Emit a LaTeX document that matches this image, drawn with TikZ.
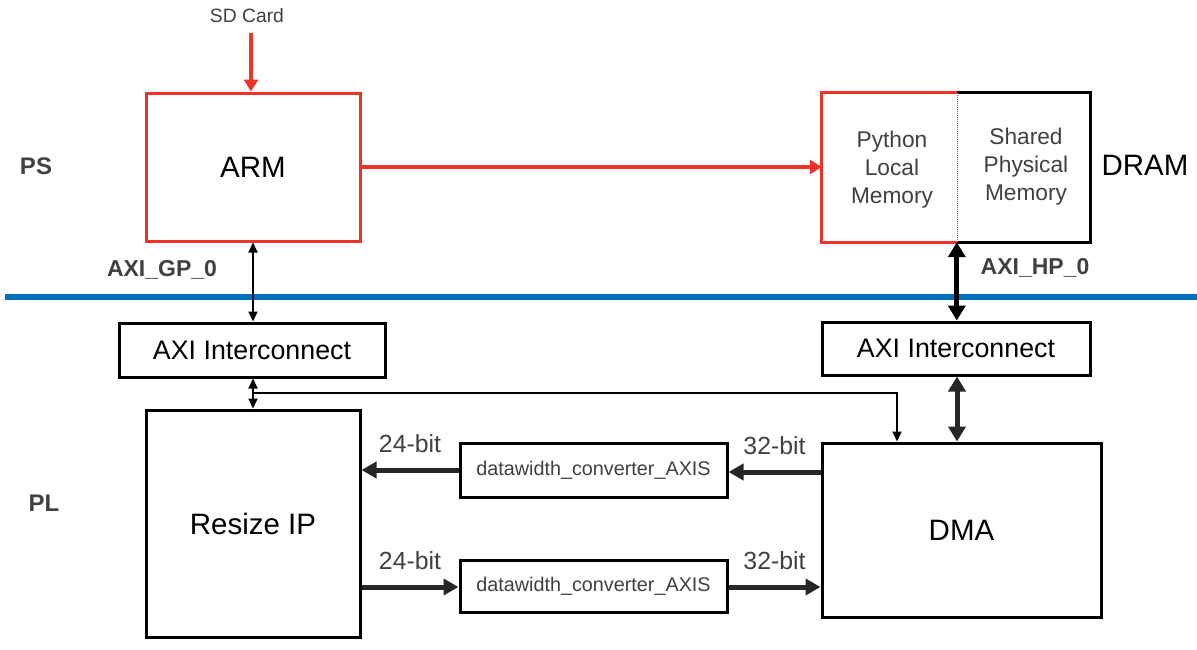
\documentclass[tikz,border=0pt]{standalone}
\usepackage{fontspec}
\setmainfont{Liberation Sans}
\usetikzlibrary{arrows.meta}
\definecolor{psred}{RGB}{238,52,40}
\definecolor{linkblue}{RGB}{0,112,192}
\definecolor{txtgray}{RGB}{64,64,64}
\definecolor{busgray}{RGB}{38,38,38}

\begin{document}
\begin{tikzpicture}[x=1pt,y=-1pt,
  blk/.style={draw=black,line width=3pt,rectangle,inner sep=0pt,font=\fontsize{29.5}{34}\selectfont},
  redblk/.style={blk,draw=psred},
  ifc/.style={blk,font=\fontsize{26.8}{30}\selectfont},
  conv/.style={blk,font=\fontsize{19.8}{23}\selectfont,text=txtgray},
  memtxt/.style={align=center,inner sep=0pt,text=txtgray,font=\fontsize{22.7}{28}\selectfont},
  side/.style={text=txtgray,font=\bfseries\fontsize{24}{28}\selectfont},
  port/.style={text=txtgray,font=\bfseries\fontsize{23}{27}\selectfont},
  bits/.style={text=txtgray,font=\fontsize{24.8}{28}\selectfont,inner sep=2pt},
  redarrow/.style={draw=psred,line width=4pt,-{Triangle[width=14pt,length=12pt]}},
  thinbus/.style={draw=black,line width=2pt,{Triangle[width=9pt,length=10pt]}-{Triangle[width=9pt,length=10pt]}},
  hpbus/.style={draw=black,line width=5pt,{Triangle[width=17pt,length=15pt]}-{Triangle[width=17pt,length=15pt]}},
  dmabus/.style={draw=busgray,line width=5pt,{Triangle[width=17pt,length=15pt]}-{Triangle[width=17pt,length=15pt]}},
  stream/.style={draw=busgray,line width=5pt,-{Triangle[width=16pt,length=15pt]}}]
\useasboundingbox (0,0) rectangle (1197,649);

% PS side
\node[text=txtgray,font=\fontsize{19.3}{22}\selectfont] (sd) at (247,16) {SD Card};
\node[redblk,minimum width=214pt,minimum height=148pt] (arm) at (253,167) {ARM};
\node[rectangle,inner sep=0pt,minimum width=135pt,minimum height=149pt] (plm) at (889.5,167.5) {};
\node[rectangle,inner sep=0pt,minimum width=133pt,minimum height=149pt] (spm) at (1023.5,167.5) {};
\draw[black,line width=3pt] (spm.north west) -- (spm.north east) -- (spm.south east) -- (spm.south west);
\draw[psred,line width=3pt] (plm.north east) -- (plm.north west) -- (plm.south west) -- (plm.south east);
\draw[psred,line width=1pt,densely dotted] (plm.north east) -- (plm.south east);
\node[memtxt] (plmtxt) at (892,170) {Python\\Local\\Memory};
\node[memtxt] (spmtxt) at (1026,167) {Shared\\Physical\\Memory};
\node[font=\fontsize{29.5}{34}\selectfont] (dram) at (1145,165) {DRAM};
\node[side] (ps) at (36,166) {PS};
\node[port] (gp) at (162,270) {AXI\_GP\_0};
\node[port] (hp) at (1035,268) {AXI\_HP\_0};

% PS/PL boundary
\draw[linkblue,line width=6pt] (5,297) -- (1197,297);

% PL side
\node[side] (pl) at (44,503) {PL};
\node[ifc,minimum width=266pt,minimum height=54pt] (axil) at (252,350) {AXI Interconnect};
\node[ifc,minimum width=268pt,minimum height=53pt] (axir) at (956,348.5) {AXI Interconnect};
\node[blk,minimum width=214pt,minimum height=227pt] (resize) at (253,523.5) {Resize IP};
\node[blk,minimum width=279pt,minimum height=174pt] (dma) at (961.5,530) {DMA};
\node[conv,minimum width=267pt,minimum height=54pt] (conv1) at (593.5,470) {datawidth\_converter\_AXIS};
\node[conv,minimum width=267pt,minimum height=52pt] (conv2) at (593.5,586) {datawidth\_converter\_AXIS};

% connectors
\draw[redarrow] (arm.north |- sd.south) ++(-2,6) -- ([xshift=-2pt]arm.north);
\draw[redarrow] (arm.east) -- (arm.east -| plm.west);
\draw[thinbus] (arm.south) -- (arm.south |- axil.north);
\draw[thinbus] (arm.south |- axil.south) -- (resize.north);
\coordinate (tap) at (253,393);
\draw[black,line width=2pt,-{Triangle[width=9pt,length=10pt]}] (tap) -| ([xshift=-64.5pt]dma.north);
\draw[hpbus] (spm.south west) -- (spm.south west |- axir.north);
\draw[dmabus] ([xshift=1pt]axir.south) -- ([xshift=1pt]axir.south |- dma.north);
\draw[stream] (dma.west |- 0,472) -- (conv1.east |- 0,472) node[bits,midway,above=13pt] {32-bit};
\draw[stream] (conv1.west) -- (resize.east |- conv1.west) node[bits,midway,above=13pt] {24-bit};
\draw[stream] (resize.east |- 0,587) -- (conv2.west |- 0,587) node[bits,midway,above=13pt] {24-bit};
\draw[stream] (conv2.east |- 0,587) -- (dma.west |- 0,587) node[bits,midway,above=13pt] {32-bit};
\end{tikzpicture}
\end{document}
